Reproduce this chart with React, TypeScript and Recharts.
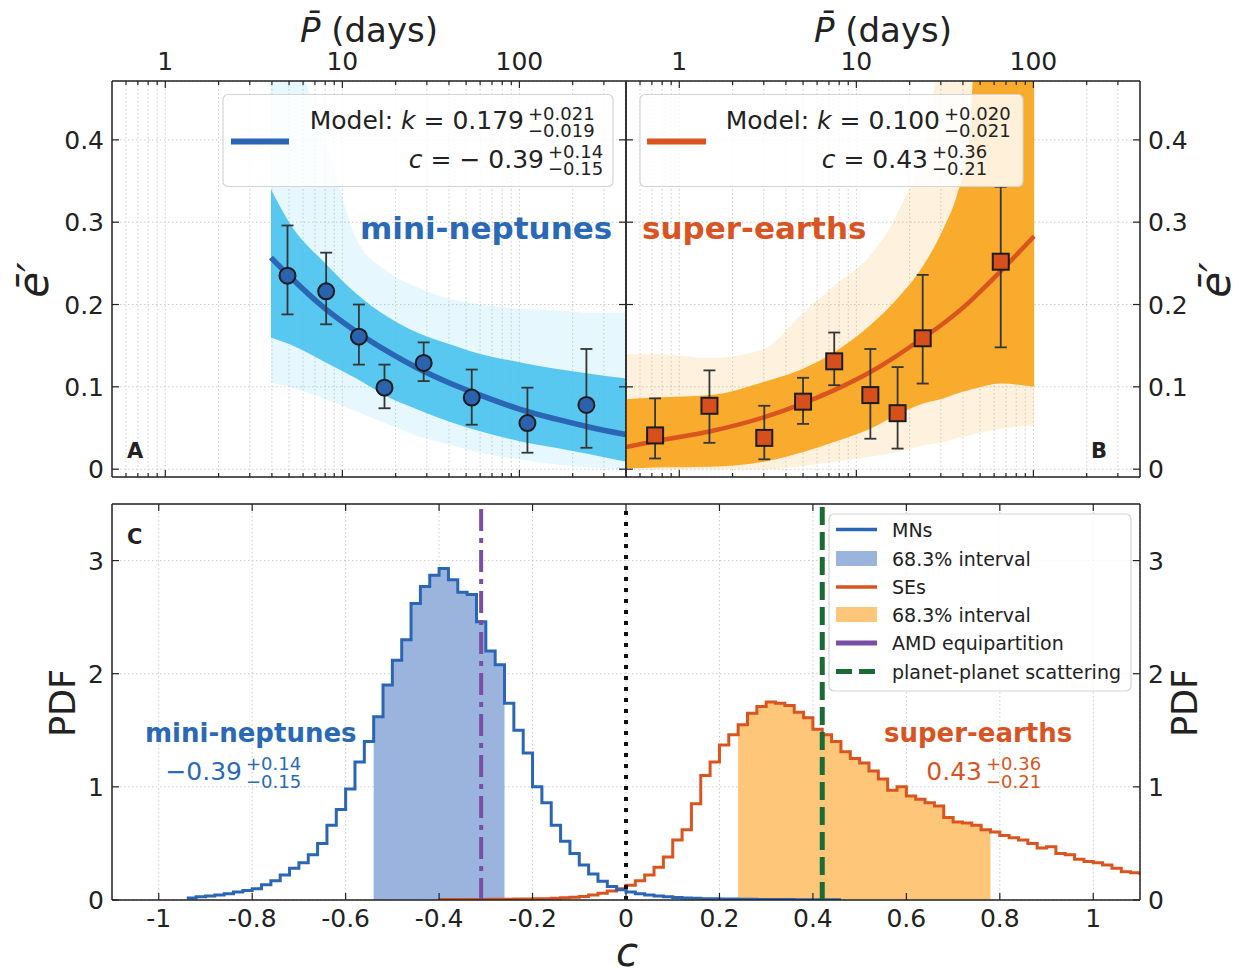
import React from 'react';
import { ComposedChart, Area, Line, Scatter, ErrorBar, XAxis, YAxis, CartesianGrid, ReferenceLine } from 'recharts';

const FONT = '"DejaVu Sans", sans-serif';
const INK = '#222222';
const GRID = '#c6c6c6';
const AXIS = { stroke: INK, strokeWidth: 1.5 };

const MN_BLUE = '#2a66b3';
const SE_RED = '#d9541e';
const MN_BAND = '#4cc3ef';
const SE_BAND = '#f8a51d';
const MN_FILL = '#9ab4de';
const SE_FILL = '#fdc678';
const AMD_PURPLE = '#7a4ea5';
const PPS_GREEN = '#1b6b35';

// ---- top panels: period axis (log) and e' axis
const P_TICKS = [0.6, 0.7, 0.8, 0.9, 1, 2, 3, 4, 5, 6, 7, 8, 9, 10, 20, 30, 40, 50, 60, 70, 80, 90, 100, 200, 300];
const P_MAJOR = [1, 10, 100];
const P_DOMAIN = [0.5, 400];
const E_TICKS = [0, 0.1, 0.2, 0.3, 0.4];
const E_DOMAIN = [-0.0095, 0.4715];

// mini-neptunes: model curve and posterior spread
const A_P = [3.95, 5, 8, 12, 18, 27, 40, 60, 100, 160, 250, 400];
const A_LINE = [0.257, 0.235, 0.195, 0.167, 0.143, 0.122, 0.105, 0.09, 0.073, 0.061, 0.051, 0.042];
const A_INNER_LO = [0.16, 0.152, 0.13, 0.11, 0.088, 0.072, 0.058, 0.046, 0.034, 0.026, 0.018, 0.009];
const A_INNER_HI = [0.34, 0.3, 0.25, 0.213, 0.185, 0.165, 0.152, 0.14, 0.13, 0.122, 0.116, 0.11];
const A_OUTER_LO = [0.105, 0.1, 0.085, 0.07, 0.055, 0.04, 0.03, 0.02, 0.012, 0.006, 0.002, 0];
const A_OUTER_HI = [0.5, 0.5, 0.4, 0.28, 0.24, 0.22, 0.207, 0.2, 0.195, 0.193, 0.19, 0.19];

// mini-neptunes: binned points
const MN_PTS_P = [4.9, 8.1, 12.4, 17.3, 28.8, 53.8, 111, 239];
const MN_PTS_E = [0.235, 0.216, 0.161, 0.099, 0.129, 0.087, 0.056, 0.078];
const MN_PTS_LO = [0.188, 0.176, 0.127, 0.074, 0.107, 0.054, 0.02, 0.026];
const MN_PTS_HI = [0.296, 0.263, 0.2, 0.127, 0.154, 0.121, 0.099, 0.146];

// super-earths: model curve and posterior spread
const B_P = [0.5, 0.73, 1.5, 3, 5, 7.5, 12, 17, 24, 31, 37, 43, 47, 65, 101];
const B_LINE = [0.027, 0.034, 0.046, 0.063, 0.08, 0.096, 0.118, 0.138, 0.16, 0.177, 0.19, 0.202, 0.21, 0.24, 0.283];
const B_INNER_LO = [0.001, 0.002, 0.003, 0.009, 0.021, 0.033, 0.049, 0.066, 0.08, 0.086, 0.092, 0.096, 0.098, 0.104, 0.1];
const B_INNER_HI = [0.085, 0.087, 0.09, 0.106, 0.122, 0.142, 0.175, 0.207, 0.248, 0.292, 0.333, 0.393, 0.5, 0.5, 0.5];
const B_OUTER_LO = [0, 0, 0, 0, 0.004, 0.009, 0.015, 0.021, 0.029, 0.033, 0.038, 0.041, 0.043, 0.049, 0.053];
const B_OUTER_HI = [0.14, 0.14, 0.135, 0.146, 0.19, 0.223, 0.26, 0.31, 0.39, 0.5, 0.5, 0.5, 0.5, 0.5, 0.5];

// super-earths: binned points
const SE_PTS_P = [0.73, 1.48, 3.02, 5.0, 7.5, 12.0, 17.1, 23.7, 65.4];
const SE_PTS_E = [0.041, 0.077, 0.038, 0.082, 0.131, 0.09, 0.068, 0.159, 0.252];
const SE_PTS_LO = [0.013, 0.032, 0.012, 0.055, 0.102, 0.037, 0.025, 0.104, 0.148];
const SE_PTS_HI = [0.086, 0.12, 0.077, 0.111, 0.166, 0.146, 0.124, 0.236, 0.343];

// ---- bottom panel: posterior of c
const C_TICKS = [-1, -0.8, -0.6, -0.4, -0.2, 0, 0.2, 0.4, 0.6, 0.8, 1];
const PDF_TICKS = [0, 1, 2, 3];
const C_EDGES = [-0.96, -0.94, -0.92, -0.9, -0.88, -0.86, -0.84, -0.82, -0.8, -0.78, -0.76, -0.74, -0.72, -0.7, -0.68, -0.66,
  -0.64, -0.62, -0.6, -0.58, -0.56, -0.54, -0.52, -0.5, -0.48, -0.46, -0.44, -0.42, -0.4, -0.38, -0.36, -0.34, -0.32, -0.3,
  -0.28, -0.26, -0.24, -0.22, -0.2, -0.18, -0.16, -0.14, -0.12, -0.1, -0.08, -0.06, -0.04, -0.02, 0, 0.02, 0.04, 0.06, 0.08,
  0.1, 0.12, 0.14, 0.16, 0.18, 0.2, 0.22, 0.24, 0.26, 0.28, 0.3, 0.32, 0.34, 0.36, 0.38, 0.4, 0.42, 0.44, 0.46, 0.48, 0.5,
  0.52, 0.54, 0.56, 0.58, 0.6, 0.62, 0.64, 0.66, 0.68, 0.7, 0.72, 0.74, 0.76, 0.78, 0.8, 0.82, 0.84, 0.86, 0.88, 0.9, 0.92,
  0.94, 0.96, 0.98, 1, 1.02, 1.04, 1.06, 1.08, 1.1];
const MN_PDF = [null, 0.018, 0.028, 0.035, 0.045, 0.055, 0.07, 0.085, 0.1, 0.135, 0.17, 0.22, 0.28, 0.33, 0.4, 0.5,
  0.66, 0.8, 0.98, 1.22, 1.4, 1.62, 1.9, 2.12, 2.3, 2.62, 2.77, 2.87, 2.93, 2.83, 2.72, 2.7, 2.46, 2.2,
  2.08, 1.74, 1.5, 1.3, 1.0, 0.86, 0.66, 0.52, 0.41, 0.31, 0.23, 0.165, 0.12, 0.09, 0.07, 0.055, 0.045, 0.036, 0.028,
  0.022, 0.018, 0.015, 0.012, 0.01, 0.009, 0.008, 0.007, 0.006, 0.005, 0.005, 0.004, 0.004, 0.003, 0.003, 0.003, 0.002, 0.002, 0.002, null, null,
  null, null, null, null, null, null, null, null, null, null, null, null, null, null, null, null, null, null, null, null, null,
  null, null, null, null, null, null, null, null, null];
const SE_PDF = [null, null, null, null, null, null, null, null, null, null, null, null, null, null, null, null,
  null, null, null, null, null, null, null, null, null, null, null, null, 0.004, 0.004, 0.005, 0.005, 0.005, 0.006,
  0.006, 0.007, 0.008, 0.009, 0.01, 0.012, 0.015, 0.02, 0.025, 0.032, 0.045, 0.06, 0.08, 0.1, 0.13, 0.17, 0.22, 0.29, 0.38,
  0.53, 0.62, 0.85, 1.1, 1.22, 1.37, 1.46, 1.55, 1.65, 1.71, 1.75, 1.74, 1.72, 1.66, 1.61, 1.51, 1.46, 1.4, 1.31, 1.25, 1.21,
  1.14, 1.07, 0.97, 1.0, 0.92, 0.89, 0.86, 0.83, 0.73, 0.69, 0.68, 0.66, 0.62, 0.6, 0.57, 0.55, 0.53, 0.5, 0.46, 0.47, 0.41,
  0.4, 0.36, 0.34, 0.33, 0.31, 0.28, 0.25, 0.24, 0.22];
const MN_INTERVAL = [-0.54, -0.26];
const SE_INTERVAL = [0.24, 0.78];
const AMD_C = -0.31;
const PPS_C = 0.42;

const inside = (c: number, iv: number[]) => c >= iv[0] - 1e-9 && c <= iv[1] + 1e-9;

// ---- tick renderers (matplotlib style: ticks point inwards)
const fmtNum = (v: number) => String(v);

const topLogTick = (labelled: boolean) => (props: any) => {
  const { x, y, payload } = props;
  const major = P_MAJOR.includes(payload.value);
  return (
    <g>
      <line x1={x} x2={x} y1={y} y2={y + (major ? 7 : 4)} stroke={INK} strokeWidth={1.2} />
      {labelled && major && (
        <text x={x} y={y - 11} textAnchor="middle" fontSize={25} fontFamily={FONT} fill={INK}>{payload.value}</text>
      )}
    </g>
  );
};

const botLogTick = (props: any) => {
  const { x, y, payload } = props;
  const major = P_MAJOR.includes(payload.value);
  return <line x1={x} x2={x} y1={y} y2={y - (major ? 7 : 4)} stroke={INK} strokeWidth={1.2} />;
};

const leftTick = (labelled: boolean) => (props: any) => {
  const { x, y, payload } = props;
  return (
    <g>
      <line x1={x} x2={x + 7} y1={y} y2={y} stroke={INK} strokeWidth={1.2} />
      {labelled && (
        <text x={x - 8} y={y + 9} textAnchor="end" fontSize={25} fontFamily={FONT} fill={INK}>{fmtNum(payload.value)}</text>
      )}
    </g>
  );
};

const rightTick = (labelled: boolean) => (props: any) => {
  const { x, y, payload } = props;
  return (
    <g>
      <line x1={x} x2={x - 7} y1={y} y2={y} stroke={INK} strokeWidth={1.2} />
      {labelled && (
        <text x={x + 8} y={y + 9} textAnchor="start" fontSize={25} fontFamily={FONT} fill={INK}>{fmtNum(payload.value)}</text>
      )}
    </g>
  );
};

const cBotTick = (props: any) => {
  const { x, y, payload } = props;
  return (
    <g>
      <line x1={x} x2={x} y1={y} y2={y - 7} stroke={INK} strokeWidth={1.2} />
      <text x={x} y={y + 27} textAnchor="middle" fontSize={25} fontFamily={FONT} fill={INK}>{fmtNum(payload.value)}</text>
    </g>
  );
};

const cTopTick = (props: any) => {
  const { x, y } = props;
  return <line x1={x} x2={x} y1={y} y2={y + 7} stroke={INK} strokeWidth={1.2} />;
};

const circleShape = (props: any) => (
  <circle cx={props.cx} cy={props.cy} r={8} fill="#2a62ad" stroke="#1c1c1c" strokeWidth={2} />
);
const squareShape = (props: any) => (
  <rect x={props.cx - 8} y={props.cy - 8} width={16} height={16} fill="#d6501e" stroke="#1c1c1c" strokeWidth={2} />
);

type PanelProps = {
  side: 'left' | 'right';
  rows: any[];
  pts: any[];
  band: string;
  line: string;
  lineWidth: number;
  shape: any;
};

const PeriodPanel = ({ side, rows, pts, band, line, lineWidth, shape }: PanelProps) => {
  const isLeft = side === 'left';
  return (
    <ComposedChart
      width={isLeft ? 640 : 679}
      height={500}
      data={rows}
      margin={isLeft ? { top: 51, right: 4, bottom: 3, left: 62 } : { top: 51, right: 39, bottom: 3, left: 56 }}
    >
      <CartesianGrid xAxisId="top" yAxisId="left" stroke={GRID} strokeDasharray="1.5 2.5" strokeWidth={0.9} />
      <XAxis xAxisId="top" orientation="top" dataKey="p" type="number" scale="log" domain={P_DOMAIN} allowDataOverflow
        ticks={P_TICKS} interval={0} height={30} tickSize={0} tickMargin={0} tickLine={false} axisLine={AXIS} tick={topLogTick(true)} />
      <XAxis xAxisId="bot" orientation="bottom" dataKey="p" type="number" scale="log" domain={P_DOMAIN} allowDataOverflow
        ticks={P_TICKS} interval={0} height={20} tickSize={0} tickMargin={0} tickLine={false} axisLine={AXIS} tick={botLogTick} />
      <YAxis yAxisId="left" orientation="left" type="number" domain={E_DOMAIN} allowDataOverflow ticks={E_TICKS} interval={0}
        width={isLeft ? 50 : 10} tickSize={0} tickMargin={0} tickLine={false} axisLine={AXIS} tick={leftTick(isLeft)} />
      <YAxis yAxisId="right" orientation="right" type="number" domain={E_DOMAIN} allowDataOverflow ticks={E_TICKS} interval={0}
        width={isLeft ? 10 : 60} tickSize={0} tickMargin={0} tickLine={false} axisLine={AXIS} tick={rightTick(!isLeft)} />
      <Area xAxisId="top" yAxisId="left" dataKey="outer" type="monotone" stroke="none" fill={band} fillOpacity={0.14}
        isAnimationActive={false} activeDot={false} />
      <Area xAxisId="top" yAxisId="left" dataKey="inner" type="monotone" stroke="none" fill={band} fillOpacity={0.92}
        isAnimationActive={false} activeDot={false} />
      <Line xAxisId="top" yAxisId="left" dataKey="line" type="monotone" stroke={line} strokeWidth={lineWidth}
        dot={false} activeDot={false} isAnimationActive={false} />
      <Scatter xAxisId="top" yAxisId="left" data={pts} dataKey="e" shape={shape} isAnimationActive={false}>
        <ErrorBar dataKey="err" direction="y" width={6} stroke="#353535" strokeWidth={1.8} isAnimationActive={false} />
      </Scatter>
    </ComposedChart>
  );
};

const Scripts = ({ x, y, up, down, size, color, upDy, downDy }: any) => (
  <g fontSize={size} fill={color} fontFamily={FONT}>
    <text x={x} y={y - upDy}>{up}</text>
    <text x={x} y={y + downDy}>{down}</text>
  </g>
);

const LEGEND_ROWS = [
  { y: 529.5, label: 'MNs', kind: 'line', color: MN_BLUE },
  { y: 558.5, label: '68.3% interval', kind: 'patch', color: MN_FILL },
  { y: 587, label: 'SEs', kind: 'line', color: SE_RED },
  { y: 614.5, label: '68.3% interval', kind: 'patch', color: SE_FILL },
  { y: 643, label: 'AMD equipartition', kind: 'line', color: AMD_PURPLE },
  { y: 671.5, label: 'planet-planet scattering', kind: 'dash', color: PPS_GREEN },
];

export default function App() {
  const aRows = A_P.map((p, i) => ({
    p, line: A_LINE[i], inner: [A_INNER_LO[i], A_INNER_HI[i]], outer: [A_OUTER_LO[i], A_OUTER_HI[i]],
  }));
  const bRows = B_P.map((p, i) => ({
    p, line: B_LINE[i], inner: [B_INNER_LO[i], B_INNER_HI[i]], outer: [B_OUTER_LO[i], B_OUTER_HI[i]],
  }));
  const mnPts = MN_PTS_P.map((p, i) => ({ p, e: MN_PTS_E[i], err: [MN_PTS_E[i] - MN_PTS_LO[i], MN_PTS_HI[i] - MN_PTS_E[i]] }));
  const sePts = SE_PTS_P.map((p, i) => ({ p, e: SE_PTS_E[i], err: [SE_PTS_E[i] - SE_PTS_LO[i], SE_PTS_HI[i] - SE_PTS_E[i]] }));
  const histRows = C_EDGES.map((c, i) => ({
    c,
    mn: MN_PDF[i],
    se: SE_PDF[i],
    mnBand: inside(c, MN_INTERVAL) ? MN_PDF[i] : null,
    seBand: inside(c, SE_INTERVAL) ? SE_PDF[i] : null,
  }));

  return (
    <div style={{ position: 'absolute', left: 0, top: 0, width: 1239, height: 977, background: '#fff', overflow: 'hidden' }}>
      <div style={{ position: 'absolute', left: 0, top: 0, width: 640, height: 490, overflow: 'hidden' }}>
        <PeriodPanel side="left" rows={aRows} pts={mnPts} band={MN_BAND} line={MN_BLUE} lineWidth={5.5} shape={circleShape} />
      </div>
      <div style={{ position: 'absolute', left: 560, top: 0, width: 679, height: 490, overflow: 'hidden' }}>
        <PeriodPanel side="right" rows={bRows} pts={sePts} band={SE_BAND} line={SE_RED} lineWidth={4.5} shape={squareShape} />
      </div>
      <div style={{ position: 'absolute', left: 0, top: 480, width: 1239, height: 497, overflow: 'hidden' }}>
        <ComposedChart width={1239} height={497} data={histRows} margin={{ top: 14, right: 39, bottom: 37, left: 62 }}>
          <CartesianGrid xAxisId="bot" yAxisId="left" stroke={GRID} strokeDasharray="1.5 2.5" strokeWidth={0.9} />
          <XAxis xAxisId="top" orientation="top" dataKey="c" type="number" domain={[-1.1, 1.1]} allowDataOverflow ticks={C_TICKS}
            interval={0} height={10} tickSize={0} tickMargin={0} tickLine={false} axisLine={AXIS} tick={cTopTick} />
          <XAxis xAxisId="bot" orientation="bottom" dataKey="c" type="number" domain={[-1.1, 1.1]} allowDataOverflow ticks={C_TICKS}
            interval={0} height={40} tickSize={0} tickMargin={0} tickLine={false} axisLine={AXIS} tick={cBotTick} />
          <YAxis yAxisId="left" orientation="left" type="number" domain={[0, 3.5]} allowDataOverflow ticks={PDF_TICKS} interval={0}
            width={50} tickSize={0} tickMargin={0} tickLine={false} axisLine={AXIS} tick={leftTick(true)} />
          <YAxis yAxisId="right" orientation="right" type="number" domain={[0, 3.5]} allowDataOverflow ticks={PDF_TICKS} interval={0}
            width={60} tickSize={0} tickMargin={0} tickLine={false} axisLine={AXIS} tick={rightTick(true)} />
          <Area xAxisId="bot" yAxisId="left" dataKey="mnBand" type="stepAfter" stroke="none" fill={MN_FILL} fillOpacity={1}
            isAnimationActive={false} activeDot={false} />
          <Area xAxisId="bot" yAxisId="left" dataKey="seBand" type="stepAfter" stroke="none" fill={SE_FILL} fillOpacity={1}
            isAnimationActive={false} activeDot={false} />
          <Line xAxisId="bot" yAxisId="left" dataKey="se" type="stepAfter" stroke={SE_RED} strokeWidth={3} dot={false}
            activeDot={false} isAnimationActive={false} />
          <Line xAxisId="bot" yAxisId="left" dataKey="mn" type="stepAfter" stroke={MN_BLUE} strokeWidth={3} dot={false}
            activeDot={false} isAnimationActive={false} />
          <ReferenceLine xAxisId="bot" yAxisId="left" x={0} stroke="#111" strokeWidth={4} strokeDasharray="4 7" />
          <ReferenceLine xAxisId="bot" yAxisId="left" x={AMD_C} stroke={AMD_PURPLE} strokeWidth={4} strokeDasharray="22 7 5 7" />
          <ReferenceLine xAxisId="bot" yAxisId="left" x={PPS_C} stroke={PPS_GREEN} strokeWidth={5} strokeDasharray="18 7" />
        </ComposedChart>
      </div>

      <svg width={1239} height={977} style={{ position: 'absolute', left: 0, top: 0, pointerEvents: 'none' }} fontFamily={FONT}>
        {/* axis titles */}
        <text x={369} y={42} textAnchor="middle" fontSize={34} fill={INK}><tspan fontStyle="italic">{'P\u0304'}</tspan> (days)</text>
        <text x={883} y={42} textAnchor="middle" fontSize={34} fill={INK}><tspan fontStyle="italic">{'P\u0304'}</tspan> (days)</text>
        <text transform="translate(48,280) rotate(-90)" textAnchor="middle" fontSize={42} fontStyle="italic" fill={INK}>{'\u0113\u2032'}</text>
        <text transform="translate(1230,280) rotate(-90)" textAnchor="middle" fontSize={42} fontStyle="italic" fill={INK}>{'\u0113\u2032'}</text>
        <text transform="translate(75,703) rotate(-90)" textAnchor="middle" fontSize={35} fill={INK}>PDF</text>
        <text transform="translate(1197,703) rotate(-90)" textAnchor="middle" fontSize={35} fill={INK}>PDF</text>
        <text x={627} y={966} textAnchor="middle" fontSize={40} fontStyle="italic" fill={INK}>c</text>

        {/* panel letters */}
        <text x={127} y={458} fontSize={21} fontWeight="bold" fill={INK}>A</text>
        <text x={1091} y={458} fontSize={21} fontWeight="bold" fill={INK}>B</text>
        <text x={127} y={544} fontSize={21} fontWeight="bold" fill={INK}>C</text>

        {/* legend A */}
        <rect x={223} y={94.5} width={390} height={92} rx={5} fill="#fff" fillOpacity={0.82} stroke="#d4d4d4" strokeWidth={1.2} />
        <line x1={231} x2={289} y1={141.5} y2={141.5} stroke={MN_BLUE} strokeWidth={6} />
        <text x={524} y={129} textAnchor="end" fontSize={25} fill={INK}>
          Model: <tspan fontStyle="italic">k</tspan> = 0.179
        </text>
        <Scripts x={528} y={129} up="+0.021" down={'\u22120.019'} size={18} color={INK} upDy={9.5} downDy={7.5} />
        <text x={544} y={167.5} textAnchor="end" fontSize={25} fill={INK}>
          <tspan fontStyle="italic">c</tspan> = {'\u2212'} 0.39
        </text>
        <Scripts x={548} y={167.5} up="+0.14" down={'\u22120.15'} size={18} color={INK} upDy={10} downDy={7.5} />

        {/* legend B */}
        <rect x={640} y={94.5} width={383} height={92} rx={5} fill="#fff" fillOpacity={0.82} stroke="#d4d4d4" strokeWidth={1.2} />
        <line x1={647} x2={706} y1={141.5} y2={141.5} stroke={SE_RED} strokeWidth={6} />
        <text x={940} y={129} textAnchor="end" fontSize={25} fill={INK}>
          Model: <tspan fontStyle="italic">k</tspan> = 0.100
        </text>
        <Scripts x={944} y={129} up="+0.020" down={'\u22120.021'} size={18} color={INK} upDy={9.5} downDy={7.5} />
        <text x={928} y={167.5} textAnchor="end" fontSize={25} fill={INK}>
          <tspan fontStyle="italic">c</tspan> = 0.43
        </text>
        <Scripts x={932} y={167.5} up="+0.36" down={'\u22120.21'} size={18} color={INK} upDy={10} downDy={7.5} />

        {/* group names, top */}
        <text x={360} y={239} fontSize={31} fontWeight="bold" fill="#2a69b6">mini-neptunes</text>
        <text x={642} y={239} fontSize={31} fontWeight="bold" fill="#d95423">super-earths</text>

        {/* group names and c estimates, bottom */}
        <text x={145} y={742} fontSize={26} fontWeight="bold" fill="#2a69b6">mini-neptunes</text>
        <text x={242} y={780} textAnchor="end" fontSize={25} fill="#2a69b6">{'\u22120.39'}</text>
        <Scripts x={246} y={780} up="+0.14" down={'\u22120.15'} size={18} color="#2a69b6" upDy={10} downDy={7.5} />
        <text x={884} y={742} fontSize={26} fontWeight="bold" fill="#d95423">super-earths</text>
        <text x={982} y={780} textAnchor="end" fontSize={25} fill="#d95423">0.43</text>
        <Scripts x={986} y={780} up="+0.36" down={'\u22120.21'} size={18} color="#d95423" upDy={10} downDy={7.5} />

        {/* legend C */}
        <rect x={829} y={514} width={302} height={177} rx={5} fill="#fff" fillOpacity={0.82} stroke="#d4d4d4" strokeWidth={1.2} />
        {LEGEND_ROWS.map((r) => (
          <g key={r.y + r.label}>
            {r.kind === 'patch' && <rect x={836} y={r.y - 7.5} width={41} height={15} fill={r.color} />}
            {r.kind === 'line' && <line x1={836} x2={877} y1={r.y} y2={r.y} stroke={r.color} strokeWidth={r.color === AMD_PURPLE ? 5 : 3.5} />}
            {r.kind === 'dash' && <line x1={836} x2={877} y1={r.y} y2={r.y} stroke={r.color} strokeWidth={5} strokeDasharray="16 7" />}
            <text x={892} y={r.y + 7} fontSize={19} fill={INK}>{r.label}</text>
          </g>
        ))}
      </svg>
    </div>
  );
}
